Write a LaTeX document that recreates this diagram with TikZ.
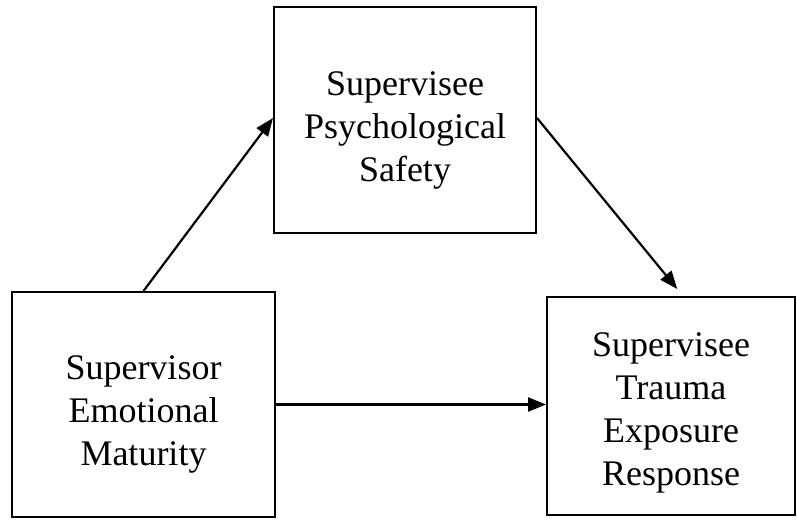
\documentclass[tikz,border=0pt]{standalone}
\usepackage{fontspec}
\setmainfont{Liberation Serif}
\usetikzlibrary{arrows.meta}
\begin{document}
\begin{tikzpicture}[x=1pt,y=-1pt,
  box/.style={draw, line width=2pt, inner sep=0pt},
  txt/.style={align=center, inner sep=0pt, font=\fontsize{36}{43}\selectfont},
  arr/.style={line width=2.2pt, -{Triangle[length=18pt,width=14pt]}}]
\useasboundingbox (0,0) rectangle (797,519);
\node[box, minimum width=263pt, minimum height=225pt] (L) at (143.5,404.5) {};
\node[txt] (Lt) at ([yshift=-10pt]L.center) {Supervisor\\Emotional\\Maturity};
\node[box, minimum width=262pt, minimum height=226pt] (T) at (405,120) {};
\node[txt] (Tt) at ([yshift=-10pt]T.center) {Supervisee\\Psychological\\Safety};
\node[box, minimum width=248pt, minimum height=218pt] (R) at (671,406) {};
\node[txt] (Rt) at ([yshift=-7pt]R.center) {Supervisee\\Trauma\\Exposure\\Response};
\draw[arr] (L.north) -- ([yshift=2pt]T.west);
\draw[arr, shorten >=9pt] ([yshift=2pt]T.east) -- ([xshift=12pt]R.north);
\draw[arr] (L.east) -- (L.east -| R.west);
\end{tikzpicture}
\end{document}
